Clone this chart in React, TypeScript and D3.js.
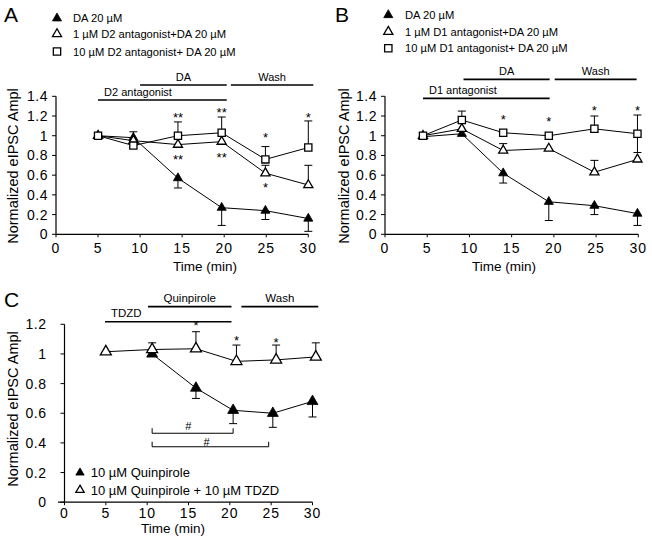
import React from 'react';
import * as d3 from 'd3';

const FONT = '"Liberation Sans", Arial, Helvetica, sans-serif';

// ---------- Panel A ----------
const aTime = [5, 9.2, 14.5, 19.7, 24.9, 30];
const aDA = [1.0, 0.98, 0.57, 0.27, 0.24, 0.16];
const aDAUp = [0, 0.06, 0, 0, 0, 0];
const aDADown = [0, 0, 0.1, 0.18, 0.09, 0.13];
const aAnt1 = [1.0, 0.95, 0.91, 0.94, 0.62, 0.5];
const aAnt1Up = [0, 0, 0, 0, 0.08, 0.2];
const aAnt1Down = [0, 0, 0, 0, 0, 0];
const aAnt10 = [1.0, 0.9, 1.0, 1.03, 0.76, 0.88];
const aAnt10Up = [0, 0, 0.14, 0.16, 0.13, 0.27];
const aAnt10Down = [0, 0, 0, 0, 0, 0];
const aStarTime = [14.5, 19.7, 24.9, 30, 14.5, 19.7, 24.9];
const aStarLevel = [1.21, 1.26, 1.007, 1.21, 0.787, 0.804, 0.5];
const aStarText = ['**', '**', '*', '*', '**', '**', '*'];
const aBarFrom = [5.0, 10.0, 20.8];
const aBarTo = [20.3, 20.3, 30.6];
const aBarLevel = [1.362, 1.514, 1.514];
const aBarText = ['D2 antagonist', 'DA', 'Wash'];
const aLegend = ['DA 20 µM', '1 µM D2 antagonist+DA 20 µM', '10 µM D2 antagonist+ DA 20 µM'];

// ---------- Panel B ----------
const bTime = [4.5, 9.1, 14.0, 19.4, 24.8, 29.9];
const bDA = [0.99, 1.02, 0.62, 0.33, 0.29, 0.21];
const bDAUp = [0, 0, 0, 0, 0, 0];
const bDADown = [0, 0, 0.1, 0.19, 0.09, 0.12];
const bAnt1 = [1.0, 1.07, 0.85, 0.87, 0.63, 0.76];
const bAnt1Up = [0, 0, 0.07, 0, 0.12, 0];
const bAnt1Down = [0, 0, 0, 0, 0, 0];
const bAnt10 = [1.0, 1.16, 1.03, 1.0, 1.07, 1.02];
const bAnt10Up = [0, 0.09, 0, 0, 0.13, 0.19];
const bAnt10Down = [0, 0, 0, 0, 0, 0.19];
const bStarTime = [14.0, 19.4, 24.8, 29.9];
const bStarLevel = [1.193, 1.169, 1.278, 1.278];
const bStarText = ['*', '*', '*', '*'];
const bBarFrom = [4.5, 9.3, 20.1];
const bBarTo = [19.5, 19.5, 29.8];
const bBarLevel = [1.379, 1.572, 1.572];
const bBarText = ['D1 antagonist', 'DA', 'Wash'];
const bLegend = ['DA 20 µM', '1 µM D1 antagonist+DA 20 µM', '10 µM D1 antagonist+ DA 20 µM'];

// ---------- Panel C ----------
const cTimeQ = [10.6, 15.9, 20.4, 25.2, 30];
const cQ = [1.0, 0.77, 0.62, 0.6, 0.68];
const cQUp = [0, 0, 0, 0, 0];
const cQDown = [0, 0.07, 0.09, 0.095, 0.105];
const cTimeT = [5, 10.6, 15.9, 20.8, 25.6, 30.4];
const cT = [1.015, 1.03, 1.035, 0.95, 0.96, 0.98];
const cTUp = [0, 0.045, 0.115, 0.11, 0.1, 0.095];
const cTDown = [0, 0, 0, 0, 0, 0];
const cStarTime = [15.9, 20.8, 25.6];
const cStarLevel = [1.207, 1.106, 1.094];
const cStarText = ['*', '*', '*'];
const cBarFrom = [4.9, 10.1, 21.4];
const cBarTo = [20.2, 20.2, 30.7];
const cBarLevel = [1.2175, 1.319, 1.319];
const cBarText = ['TDZD', 'Quinpirole', 'Wash'];
const cBracketFrom = [10.6, 10.6];
const cBracketTo = [20.4, 24.7];
const cBracketLevel = [0.465, 0.374];
const cHashTime = [14.97, 17.2];
const cHashLevel = [0.514, 0.408];
const cLegend = ['10 µM  Quinpirole', '10 µM  Quinpirole + 10 µM TDZD'];

const xTicks = [0, 5, 10, 15, 20, 25, 30];
const yTicksAB = [0, 0.2, 0.4, 0.6, 0.8, 1, 1.2, 1.4];
const yTicksC = [0, 0.2, 0.4, 0.6, 0.8, 1, 1.2];

type Kind = 'filled' | 'open' | 'square';
type Series = { x: number[]; y: number[]; up: number[]; down: number[]; kind: Kind };

function Marker({ kind, x, y, size }: { kind: Kind; x: number; y: number; size: number }) {
  const type = kind === 'square' ? d3.symbolSquare : d3.symbolTriangle;
  const p = d3.symbol().type(type).size(size)() as string;
  return (
    <path
      d={p}
      transform={`translate(${x},${y})`}
      fill={kind === 'filled' ? '#000' : '#fff'}
      stroke="#000"
      strokeWidth={kind === 'filled' ? 0.8 : 1.3}
    />
  );
}

type PanelProps = {
  xRange: [number, number];
  yDomainMax: number;
  yRange: [number, number];
  yTicks: number[];
  series: Series[];
  triSize: number;
  sqSize: number;
  starTime: number[];
  starLevel: number[];
  starText: string[];
  barFrom: number[];
  barTo: number[];
  barLevel: number[];
  barText: string[];
  barFont: number;
  yLabelPos: [number, number];
  timeLabelPos: [number, number];
  tickLabelGap: number;
  xTickLabelOffset: number;
  xAxisStart?: number;
};

function Panel(p: PanelProps) {
  const x = d3.scaleLinear().domain([0, 30]).range(p.xRange);
  const y = d3.scaleLinear().domain([0, p.yDomainMax]).range(p.yRange);
  const line = d3
    .line<[number, number]>()
    .x((d) => x(d[0]))
    .y((d) => y(d[1]));
  const y0 = y(0);
  const x0 = x(0);
  const cap = 4;
  return (
    <g fontFamily={FONT}>
      {/* axes */}
      <line x1={p.xAxisStart ?? x0} x2={x(30)} y1={y0} y2={y0} stroke="#000" strokeWidth={1.2} />
      <line x1={x0} x2={x0} y1={y0} y2={y(p.yDomainMax)} stroke="#000" strokeWidth={1.2} />
      {xTicks.map((t) => (
        <g key={'xt' + t}>
          <line x1={x(t)} x2={x(t)} y1={y0} y2={y0 + 3} stroke="#000" />
          <text x={x(t)} y={y0 + p.xTickLabelOffset} textAnchor="middle" fontSize={14} letterSpacing={1}>
            {t}
          </text>
        </g>
      ))}
      {p.yTicks.map((t) => (
        <g key={'yt' + t}>
          <line x1={x0 - 4} x2={x0} y1={y(t)} y2={y(t)} stroke="#000" />
          <text x={x0 - p.tickLabelGap} y={y(t) + 5} textAnchor="end" fontSize={14} letterSpacing={0.5}>
            {String(t)}
          </text>
        </g>
      ))}
      <text
        transform={`translate(${p.yLabelPos[0]},${p.yLabelPos[1]}) rotate(-90)`}
        textAnchor="middle"
        dominantBaseline="central"
        fontSize={14.5}
      >
        Normalized eIPSC Ampl
      </text>
      <text x={p.timeLabelPos[0]} y={p.timeLabelPos[1]} textAnchor="middle" fontSize={13.5}>
        Time (min)
      </text>
      {/* treatment bars */}
      {p.barText.map((t, i) => {
        const xa = x(p.barFrom[i]);
        const xb = x(p.barTo[i]);
        const yy = y(p.barLevel[i]);
        const start = i === 0;
        return (
          <g key={'bar' + i}>
            <line x1={xa} x2={xb} y1={yy} y2={yy} stroke="#000" strokeWidth={1.6} />
            <text
              x={start ? xa + 6 : (xa + xb) / 2}
              y={yy - 4.5}
              textAnchor={start ? 'start' : 'middle'}
              fontSize={p.barFont}
            >
              {t}
            </text>
          </g>
        );
      })}
      {/* connecting lines */}
      {p.series.map((s, si) => (
        <path
          key={'ln' + si}
          d={line(s.x.map((v, i) => [v, s.y[i]] as [number, number])) as string}
          fill="none"
          stroke="#000"
          strokeWidth={1}
        />
      ))}
      {/* error bars */}
      {p.series.map((s, si) =>
        s.x.map((v, i) => {
          const cx = x(v);
          const segs: any[] = [];
          if (s.up[i] > 0) {
            const top = y(s.y[i] + s.up[i]);
            segs.push(
              <g key={'u' + si + '_' + i}>
                <line x1={cx} x2={cx} y1={y(s.y[i])} y2={top} stroke="#000" strokeWidth={1} />
                <line x1={cx - cap} x2={cx + cap} y1={top} y2={top} stroke="#000" strokeWidth={1} />
              </g>
            );
          }
          if (s.down[i] > 0) {
            const bot = y(s.y[i] - s.down[i]);
            segs.push(
              <g key={'d' + si + '_' + i}>
                <line x1={cx} x2={cx} y1={y(s.y[i])} y2={bot} stroke="#000" strokeWidth={1} />
                <line x1={cx - cap} x2={cx + cap} y1={bot} y2={bot} stroke="#000" strokeWidth={1} />
              </g>
            );
          }
          return segs;
        })
      )}
      {/* markers */}
      {p.series.map((s, si) =>
        s.x.map((v, i) => (
          <Marker
            key={'m' + si + '_' + i}
            kind={s.kind}
            x={x(v)}
            y={y(s.y[i])}
            size={s.kind === 'square' ? p.sqSize : p.triSize}
          />
        ))
      )}
      {/* significance stars */}
      {p.starText.map((t, i) => (
        <text
          key={'st' + i}
          x={x(p.starTime[i])}
          y={y(p.starLevel[i]) + 7}
          textAnchor="middle"
          fontSize={13}
        >
          {t}
        </text>
      ))}
    </g>
  );
}

function Legend({
  cx,
  rows,
  tx,
  labels,
  kinds,
  fontSize,
  size,
}: {
  cx: number;
  rows: number[];
  tx: number;
  labels: string[];
  kinds: Kind[];
  fontSize: number;
  size: number;
}) {
  return (
    <g fontFamily={FONT}>
      {labels.map((l, i) => (
        <g key={'lg' + i}>
          <Marker kind={kinds[i]} x={cx} y={rows[i]} size={kinds[i] === 'square' ? size * 1.5 : size} />
          <text x={tx} y={rows[i] + fontSize * 0.36} fontSize={fontSize}>
            {l}
          </text>
        </g>
      ))}
    </g>
  );
}

export default function App() {
  const seriesA: Series[] = [
    { x: aTime, y: aDA, up: aDAUp, down: aDADown, kind: 'filled' },
    { x: aTime, y: aAnt1, up: aAnt1Up, down: aAnt1Down, kind: 'open' },
    { x: aTime, y: aAnt10, up: aAnt10Up, down: aAnt10Down, kind: 'square' },
  ];
  const seriesB: Series[] = [
    { x: bTime, y: bDA, up: bDAUp, down: bDADown, kind: 'filled' },
    { x: bTime, y: bAnt1, up: bAnt1Up, down: bAnt1Down, kind: 'open' },
    { x: bTime, y: bAnt10, up: bAnt10Up, down: bAnt10Down, kind: 'square' },
  ];
  const seriesC: Series[] = [
    { x: cTimeQ, y: cQ, up: cQUp, down: cQDown, kind: 'filled' },
    { x: cTimeT, y: cT, up: cTUp, down: cTDown, kind: 'open' },
  ];
  const xC = d3.scaleLinear().domain([0, 30]).range([64.5, 312.5]);
  const yC = d3.scaleLinear().domain([0, 1.2]).range([502.2, 324.3]);
  return (
    <svg
      width={652}
      height={540}
      style={{ position: 'absolute', left: 0, top: 0, background: '#fff' }}
    >
      <rect width={652} height={540} fill="#fff" />
      {/* panel letters */}
      <text x={4} y={22} fontSize={21} fontFamily={FONT}>A</text>
      <text x={335} y={22} fontSize={21} fontFamily={FONT}>B</text>
      <text x={4} y={307} fontSize={21} fontFamily={FONT}>C</text>

      <Legend cx={57} rows={[18.3, 34, 51.5]} tx={73} labels={aLegend} kinds={['filled', 'open', 'square']} fontSize={11.2} size={36} />
      <Legend cx={388.3} rows={[15, 31.7, 48.3]} tx={405} labels={bLegend} kinds={['filled', 'open', 'square']} fontSize={11.2} size={36} />

      <Panel
        xRange={[56, 308.3]}
        yDomainMax={1.4}
        yRange={[234.3, 96.3]}
        yTicks={yTicksAB}
        series={seriesA}
        triSize={36}
        sqSize={52}
        starTime={aStarTime}
        starLevel={aStarLevel}
        starText={aStarText}
        barFrom={aBarFrom}
        barTo={aBarTo}
        barLevel={aBarLevel}
        barText={aBarText}
        barFont={11}
        yLabelPos={[13, 166]}
        timeLabelPos={[205, 271]}
        tickLabelGap={8}
        xTickLabelOffset={19}
      />
      <Panel
        xRange={[385, 638.3]}
        yDomainMax={1.4}
        yRange={[234.3, 96.3]}
        yTicks={yTicksAB}
        series={seriesB}
        triSize={36}
        sqSize={52}
        starTime={bStarTime}
        starLevel={bStarLevel}
        starText={bStarText}
        barFrom={bBarFrom}
        barTo={bBarTo}
        barLevel={bBarLevel}
        barText={bBarText}
        barFont={11}
        yLabelPos={[344, 166]}
        timeLabelPos={[504, 271]}
        tickLabelGap={8}
        xTickLabelOffset={19}
      />
      <Panel
        xRange={[64.5, 312.5]}
        yDomainMax={1.2}
        yRange={[502.2, 324.3]}
        yTicks={yTicksC}
        series={seriesC}
        triSize={52}
        sqSize={52}
        starTime={cStarTime}
        starLevel={cStarLevel}
        starText={cStarText}
        barFrom={cBarFrom}
        barTo={cBarTo}
        barLevel={cBarLevel}
        barText={cBarText}
        barFont={11.5}
        yLabelPos={[13, 409]}
        timeLabelPos={[173, 533]}
        tickLabelGap={18}
        xTickLabelOffset={16}
        xAxisStart={58}
      />
      {/* panel C significance brackets */}
      <g fontFamily={FONT}>
        {cBracketFrom.map((f, i) => {
          const xa = xC(f);
          const xb = xC(cBracketTo[i]);
          const yy = yC(cBracketLevel[i]);
          return (
            <path
              key={'br' + i}
              d={`M${xa},${yy - 5}V${yy}H${xb}V${yy - 5}`}
              fill="none"
              stroke="#000"
              strokeWidth={1}
            />
          );
        })}
        {cHashTime.map((t, i) => (
          <text key={'h' + i} x={xC(t)} y={yC(cHashLevel[i]) + 4} textAnchor="middle" fontSize={11}>
            #
          </text>
        ))}
      </g>
      <Legend cx={80} rows={[472.7, 490]} tx={90.7} labels={cLegend} kinds={['filled', 'open']} fontSize={13} size={30} />
    </svg>
  );
}
